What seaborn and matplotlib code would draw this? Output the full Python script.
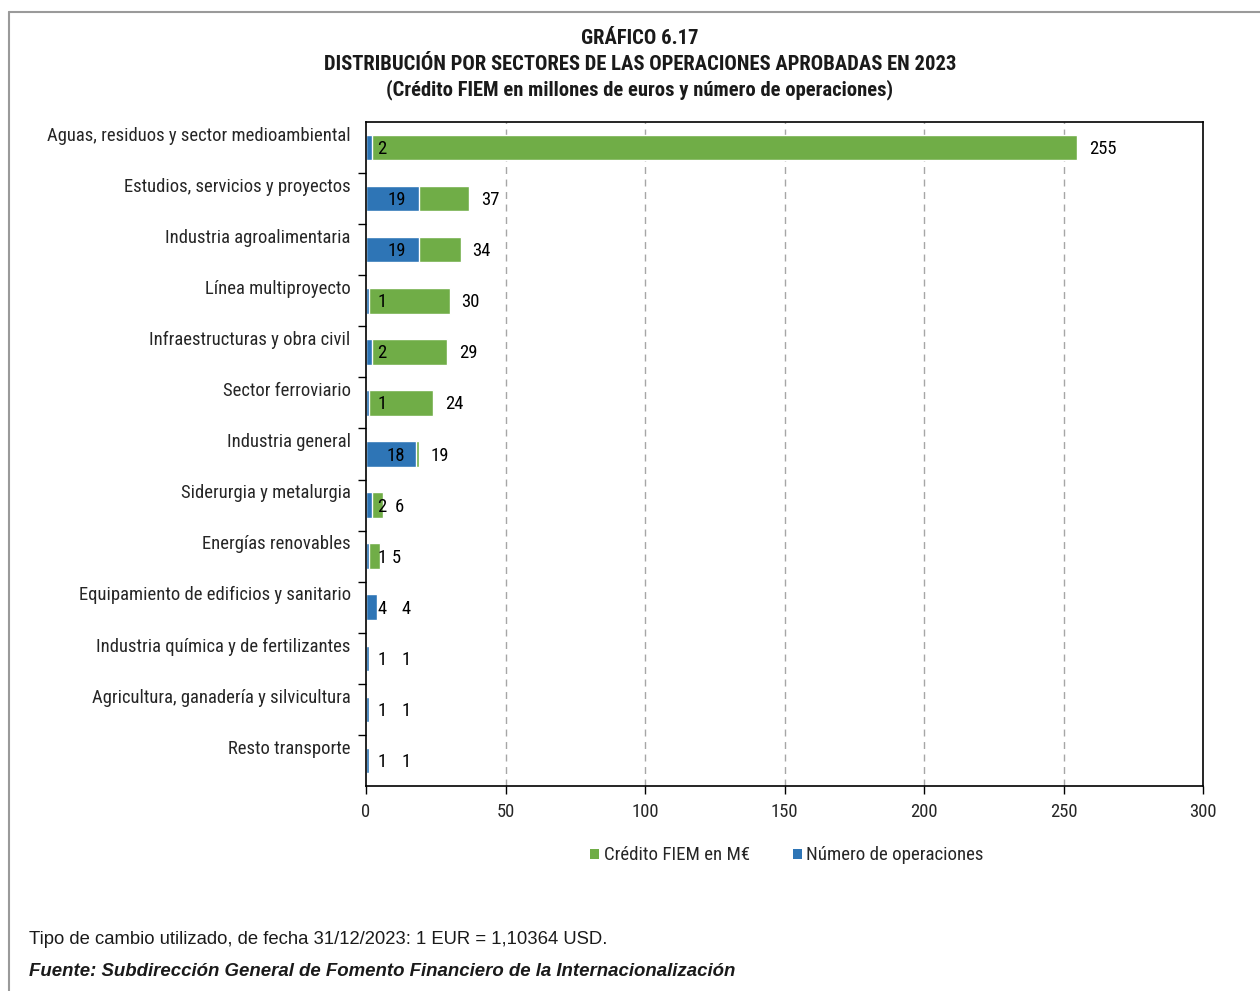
import matplotlib
matplotlib.use("Agg")
import matplotlib.pyplot as plt
import seaborn as sns
import pandas as pd
from matplotlib import font_manager
from matplotlib.font_manager import FontProperties
from matplotlib.patches import Patch
from matplotlib.lines import Line2D

categories = [
    "Aguas, residuos y sector medioambiental",
    "Estudios, servicios y proyectos",
    "Industria agroalimentaria",
    "Línea multiproyecto",
    "Infraestructuras y obra civil",
    "Sector ferroviario",
    "Industria general",
    "Siderurgia y metalurgia",
    "Energías renovables",
    "Equipamiento de edificios y sanitario",
    "Industria química y de fertilizantes",
    "Agricultura, ganadería y silvicultura",
    "Resto transporte",
]
credito = [255, 37, 34, 30, 29, 24, 19, 6, 5, 4, 1, 1, 1]
operaciones = [2, 19, 19, 1, 2, 1, 18, 2, 1, 4, 1, 1, 1]
xticks = [0, 50, 100, 150, 200, 250, 300]

GREEN = "#70AD47"
BLUE = "#2E75B6"

sns.set_theme(style="white")
plt.rcParams["font.family"] = ["Liberation Sans", "DejaVu Sans"]


def find_condensed(bold):
    best = None
    for f in font_manager.fontManager.ttflist:
        nm = f.name.lower()
        fn = f.fname.lower()
        cond = ("narrow" in nm or "condensed" in nm or "condensed" in fn
                or "narrow" in fn or str(f.stretch).lower() in ("condensed", "semi-condensed"))
        if not cond or f.style != "normal":
            continue
        if "mono" in nm or "serif" in nm and "sans" not in nm:
            continue
        w = f.weight if isinstance(f.weight, int) else (700 if "bold" in str(f.weight) else 400)
        if bold != (w >= 600):
            continue
        if "extra" in fn or "light" in fn or "semi" in fn and "semicond" not in fn:
            continue
        score = 0
        if "liberation" in nm:
            score = 3
        elif "roboto" in nm:
            score = 2
        elif "dejavu" in nm:
            score = 1
        if best is None or score > best[0]:
            best = (score, f.fname)
    return best[1] if best else None


reg_path = find_condensed(False)
bold_path = find_condensed(True)
fp_reg = FontProperties(fname=reg_path) if reg_path else FontProperties(family="Liberation Sans")
fp_bold = (FontProperties(fname=bold_path) if bold_path
           else FontProperties(family="Liberation Sans", weight="bold"))
fp_plain = FontProperties(family="Liberation Sans")
fp_plain_bi = FontProperties(family="Liberation Sans", weight="bold", style="italic")

fig = plt.figure(figsize=(12.6, 9.91), dpi=100)
renderer = fig.canvas.get_renderer()


def fit(s, target_px, fp):
    t = fig.text(0, 0, s, fontproperties=fp, fontsize=10)
    w = t.get_window_extent(renderer).width
    t.remove()
    return 10 * target_px / w


sz_cat = fit("Aguas, residuos y sector medioambiental", 302, fp_reg)
sz_title = fit("DISTRIBUCIÓN POR SECTORES DE LAS OPERACIONES APROBADAS EN 2023", 632, fp_bold)
sz_leg = fit("Número de operaciones", 176, fp_reg)
sz_foot = fit("Tipo de cambio utilizado, de fecha 31/12/2023: 1 EUR = 1,10364 USD.", 579, fp_plain)
sz_src = fit("Fuente: Subdirección General de Fomento Financiero de la Internacionalización", 709,
             fp_plain_bi)

df = pd.DataFrame({"cat": categories, "cred": credito, "ops": operaciones})

ax = fig.add_axes([366 / 1260, 1 - 786 / 991, (1203 - 366) / 1260, (786 - 122) / 991])

sns.barplot(data=df, x="cred", y="cat", orient="h", color=GREEN, width=0.5,
            saturation=1, ax=ax)
sns.barplot(data=df, x="ops", y="cat", orient="h", color=BLUE, width=0.5,
            saturation=1, ax=ax)

ax.set_xlim(0, 300)
ax.set_ylim(len(categories) - 0.5, -0.5)
ax.set_xticks(xticks)
ax.set_xticklabels([str(t) for t in xticks], fontproperties=fp_reg, fontsize=sz_cat)
ax.set_xlabel("")
ax.set_ylabel("")
for t in xticks[1:-1]:
    ax.axvline(t, color="#A6A6A6", lw=1, ls=(0, (5, 4)), zorder=0)

ax.set_yticks([i - 0.27 for i in range(len(categories))])
ax.set_yticklabels(categories, fontproperties=fp_reg, fontsize=sz_cat)
ax.set_yticks([i + 0.5 for i in range(len(categories) - 1)], minor=True)
ax.tick_params(axis="y", which="major", length=0, pad=11)
ax.tick_params(axis="y", which="minor", length=6, width=1, color="black", left=True)
ax.tick_params(axis="x", length=6, width=1, color="black", bottom=True, pad=6)
for s in ax.spines.values():
    s.set_visible(True)
    s.set_color("black")
    s.set_linewidth(1.2)

for i, (c, o) in enumerate(zip(credito, operaciones)):
    xo = max(o / 2 + 1.6, 5.7)
    ax.text(xo, i + 0.03, str(o), ha="center", va="center", fontproperties=fp_reg,
            fontsize=sz_cat, color="black")
    xc = c + 4.2 if c + 4.2 >= 9 else 12.7
    ax.text(xc, i + 0.03, str(c), ha="left", va="center", fontproperties=fp_reg,
            fontsize=sz_cat, color="black")

titles = ["GRÁFICO 6.17",
          "DISTRIBUCIÓN POR SECTORES DE LAS OPERACIONES APROBADAS EN 2023",
          "(Crédito FIEM en millones de euros y número de operaciones)"]
for ty, tt in zip([38, 64, 90], titles):
    fig.text(640 / 1260, 1 - ty / 991, tt, ha="center", va="center",
             fontproperties=fp_bold, fontsize=sz_title, color="#1a1a1a")

handles = [Patch(facecolor=GREEN, edgecolor="none", label="Crédito FIEM en M€"),
           Patch(facecolor=BLUE, edgecolor="none", label="Número de operaciones")]
leg = fig.legend(handles=handles, loc="center", bbox_to_anchor=(787 / 1260, 1 - 855 / 991),
                 ncol=2, frameon=False, prop=fp_reg, handlelength=0.55, handleheight=0.55,
                 handletextpad=0.25, columnspacing=2.6)
for t in leg.get_texts():
    t.set_fontsize(sz_leg)

fig.text(29 / 1260, 1 - 940 / 991,
         "Tipo de cambio utilizado, de fecha 31/12/2023: 1 EUR = 1,10364 USD.",
         ha="left", va="center", fontproperties=fp_plain, fontsize=sz_foot, color="#1a1a1a")
fig.text(29 / 1260, 1 - 972 / 991,
         "Fuente: Subdirección General de Fomento Financiero de la Internacionalización",
         ha="left", va="center", fontproperties=fp_plain_bi, fontsize=sz_src, color="#1a1a1a")

fig.add_artist(Line2D([9 / 1260, 1.0], [1 - 12 / 991, 1 - 12 / 991],
                      transform=fig.transFigure, color="#9A9A9A", lw=1.5))
fig.add_artist(Line2D([9 / 1260, 9 / 1260], [1 - 12 / 991, 0.0],
                      transform=fig.transFigure, color="#9A9A9A", lw=1.5))

fig.savefig("out.png", dpi=100)
